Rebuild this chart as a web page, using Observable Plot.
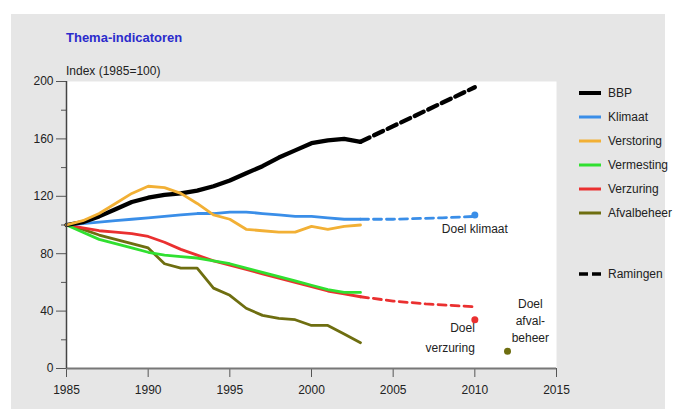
<!DOCTYPE html>
<html>
<head>
<meta charset="utf-8">
<script src="https://cdn.jsdelivr.net/npm/d3@7"></script>
<script src="https://cdn.jsdelivr.net/npm/@observablehq/plot@0.6"></script>
<style>
  html, body { margin: 0; padding: 0; background: #ffffff; }
  #wrap { position: relative; width: 676px; height: 409px; overflow: hidden; font-family: "Liberation Sans", Arial, sans-serif; }
  #panel { position: absolute; left: 11px; top: 14px; width: 654px; height: 395px; background: #e6e6e6; }
  #chart { position: absolute; left: 0; top: 0; }
  #title { position: absolute; left: 66px; top: 30px; font-size: 13px; font-weight: bold; color: #2b2bcc; }
  #ylabel { position: absolute; left: 66px; top: 64px; font-size: 12px; color: #222; }
  .leg { position: absolute; left: 579px; height: 14px; display: flex; align-items: center; font-size: 12px; color: #222; }
  .leg svg { margin-right: 7px; }
</style>
</head>
<body>
<div id="wrap">
  <div id="panel"></div>
  <div id="chart"></div>
  <div id="title">Thema-indicatoren</div>
  <div id="ylabel">Index (1985=100)</div>
  <div id="legend"></div>
</div>
<script>
// ---- data ----
const years = [1985,1986,1987,1988,1989,1990,1991,1992,1993,1994,1995,1996,1997,1998,1999,2000,2001,2002,2003];
const bbp         = [100,102,106,111,116,119,121,122,124,127,131,136,141,147,152,157,159,160,158];
const klimaat     = [100,101,102,103,104,105,106,107,108,108,109,109,108,107,106,106,105,104,104];
const verstoring  = [100,103,108,115,122,127,126,122,115,107,104,97,96,95,95,99,97,99,100];
const vermesting  = [100,95,90,87,84,81,79,78,77,75,73,70,67,64,61,58,55,53,53];
const verzuring   = [100,98,96,95,94,92,88,83,79,75,72,69,66,63,60,57,54,52,50];
const afvalbeheer = [100,97,93,90,87,84,73,70,70,56,51,42,37,35,34,30,30,24,18];

// projections (Ramingen)
const bbpProjYears = [2003, 2010];
const bbpProj      = [158, 196];
const klimaatProjYears = [2003, 2005, 2008, 2010];
const klimaatProj      = [104, 104, 105, 106];
const verzuringProjYears = [2003, 2005, 2007, 2010];
const verzuringProj      = [50, 47, 45, 43];

// targets (Doel)
const targetNames  = ["Klimaat", "Verzuring", "Afvalbeheer"];
const targetYears  = [2010, 2010, 2012];
const targetValues = [107, 34, 12];

// annotations
const noteTexts  = ["Doel klimaat", "Doel\nverzuring", "Doel\nafval-\nbeheer"];
const noteYears  = [2010, 2010, 2013.4];
const noteValues = [98, 23, 34];
const noteAnchor = ["middle", "end", "middle"];

const seriesNames  = ["BBP", "Klimaat", "Verstoring", "Vermesting", "Verzuring", "Afvalbeheer"];
const seriesColors = ["#000000", "#3a8ee8", "#f2b035", "#30e030", "#ea3030", "#6e6e10"];
const seriesValues = [bbp, klimaat, verstoring, vermesting, verzuring, afvalbeheer];

const yMajor = [0, 40, 80, 120, 160, 200];
const yMinor = [20, 60, 100, 140, 180];
const xTicks = [1985, 1990, 1995, 2000, 2005, 2010, 2015];

// ---- build tables ----
const rows = (name, xs, vs) => xs.map((x, i) => ({series: name, year: x, value: vs[i]}));
const color = name => seriesColors[seriesNames.indexOf(name)];
const width = name => name === "BBP" ? 4.3 : 2.8;

const drawOrder = ["Afvalbeheer", "Verzuring", "Vermesting", "Klimaat", "BBP", "Verstoring"];
const lineMarks = drawOrder.map(name =>
  Plot.line(rows(name, years, seriesValues[seriesNames.indexOf(name)]),
    {x: "year", y: "value", stroke: color(name), strokeWidth: width(name), curve: "linear"}));

const projMarks = [
  Plot.line(rows("BBP", bbpProjYears, bbpProj), {x: "year", y: "value", stroke: color("BBP"), strokeWidth: 4.3, strokeDasharray: "10,5"}),
  Plot.line(rows("Klimaat", klimaatProjYears, klimaatProj), {x: "year", y: "value", stroke: color("Klimaat"), strokeWidth: 2.8, strokeDasharray: "8,5"}),
  Plot.line(rows("Verzuring", verzuringProjYears, verzuringProj), {x: "year", y: "value", stroke: color("Verzuring"), strokeWidth: 2.8, strokeDasharray: "8,5"})
];

const targets = targetNames.map((n, i) => ({series: n, year: targetYears[i], value: targetValues[i]}));
const notes = noteTexts.map((t, i) => ({text: t, year: noteYears[i], value: noteValues[i], anchor: noteAnchor[i]}));

const chart = Plot.plot({
  width: 676,
  height: 409,
  marginLeft: 66,
  marginRight: 120,
  marginTop: 81,
  marginBottom: 41,
  x: {domain: [1985, 2015]},
  y: {domain: [0, 200]},
  style: {background: "transparent", fontFamily: "'Liberation Sans', Arial, sans-serif", fontSize: "12px", color: "#222"},
  marks: [
    Plot.frame({fill: "white", stroke: null}),
    Plot.axisY({ticks: yMinor, tickSize: 5, tickFormat: () => "", label: null, stroke: "#555", tickPadding: 0}),
    Plot.axisY({ticks: yMajor, tickSize: 10, tickPadding: 3, label: null, stroke: "#555", fontSize: 12}),
    Plot.axisX({ticks: xTicks, tickSize: 9, tickPadding: 8, tickFormat: "d", label: null, stroke: "#555", fontSize: 12}),
    ...lineMarks,
    ...projMarks,
    Plot.ruleY([0], {stroke: "#777", strokeWidth: 2}),
    Plot.ruleX([1985], {y1: 0, y2: 200, stroke: "#444", strokeWidth: 1.5}),
    Plot.dot(targets, {x: "year", y: "value", r: 3.5, fill: d => color(d.series), stroke: null}),
    Plot.text(notes.filter(d => d.anchor === "middle"), {x: "year", y: "value", text: "text", textAnchor: "middle", lineHeight: 1.4, fontSize: 12, fill: "#222"}),
    Plot.text(notes.filter(d => d.anchor === "end"), {x: "year", y: "value", text: "text", textAnchor: "end", lineHeight: 1.65, fontSize: 12, fill: "#222"})
  ]
});
document.getElementById("chart").appendChild(chart);

// ---- legend ----
const legendTops = [86, 110, 134, 158, 182, 206];
const legend = document.getElementById("legend");
seriesNames.forEach((name, i) => {
  const d = document.createElement("div");
  d.className = "leg";
  d.style.top = legendTops[i] + "px";
  d.innerHTML = `<svg width="22" height="6"><line x1="0" x2="22" y1="3" y2="3" stroke="${seriesColors[i]}" stroke-width="${name === "BBP" ? 4 : 3}"/></svg><span>${name}</span>`;
  legend.appendChild(d);
});
const r = document.createElement("div");
r.className = "leg";
r.style.top = "267px";
r.innerHTML = `<svg width="22" height="6"><line x1="0" x2="22" y1="3" y2="3" stroke="#000" stroke-width="3.5" stroke-dasharray="9,4"/></svg><span>Ramingen</span>`;
legend.appendChild(r);
</script>
</body>
</html>
